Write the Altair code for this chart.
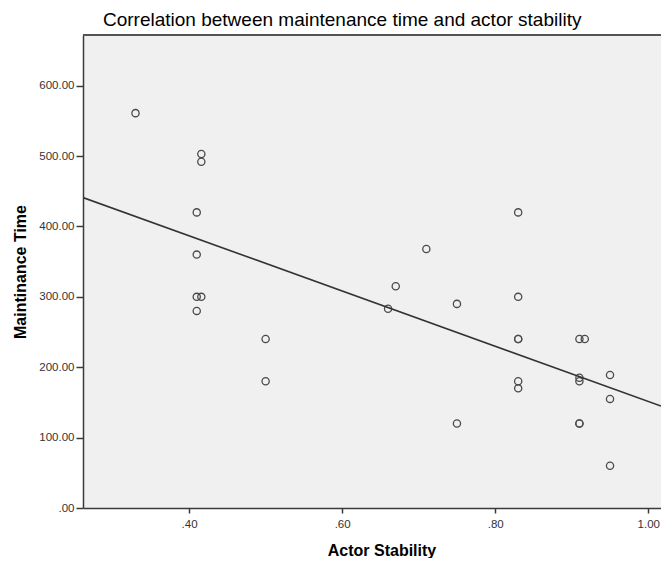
import altair as alt
import pandas as pd

# Actor stability (x) and maintenance time (y)
stability = [0.33, 0.416, 0.416, 0.41, 0.41, 0.41, 0.416, 0.41, 0.50, 0.50,
             0.83, 0.71, 0.67, 0.66, 0.75, 0.83, 0.83, 0.83, 0.91, 0.917,
             0.95, 0.91, 0.91, 0.83, 0.83, 0.95, 0.75, 0.91, 0.91, 0.95]
maint_time = [561, 503, 492, 420, 360, 300, 300, 280, 240, 180,
              420, 368, 315, 283, 290, 300, 240, 240, 240, 240,
              189, 185, 180, 180, 170, 155, 120, 120, 120, 60]

x_ticks = [0.4, 0.6, 0.8, 1.0]
y_ticks = [0, 100, 200, 300, 400, 500, 600]
x_domain = [0.2614, 1.0166]
y_domain = [0, 672]

df = pd.DataFrame({"stability": stability, "time": maint_time})

FONT = "Liberation Sans"
W, H = 578, 473
label_expr = "datum.value >= 1 ? format(datum.value, '.2f') : substring(format(datum.value, '.2f'), 1)"

x_enc = alt.X(
    "stability:Q",
    scale=alt.Scale(domain=x_domain, nice=False, zero=False),
    axis=alt.Axis(
        values=x_ticks, labelExpr=label_expr, title="Actor Stability",
        grid=False, tickSize=5, labelPadding=5, labelFontSize=11.5,
        labelColor="#333333", labelFont=FONT,
        titleFont=FONT, titleFontSize=16, titleFontWeight="bold", titleColor="black",
        titleX=298.5, titleY=42, titleBaseline="middle", titleAnchor="middle",
        domainColor="#3a3a3a", domainWidth=1.5, tickColor="#3a3a3a", tickWidth=1.5,
    ),
)
y_enc = alt.Y(
    "time:Q",
    scale=alt.Scale(domain=y_domain, nice=False, zero=True),
    axis=alt.Axis(
        values=y_ticks, labelExpr=label_expr, title="Maintinance Time",
        grid=False, tickSize=7, labelPadding=2, labelFontSize=11.5,
        labelColor="#333333", labelFont=FONT,
        titleFont=FONT, titleFontSize=16, titleFontWeight="bold", titleColor="black",
        titleX=-63, titleY=236.5, titleBaseline="middle", titleAngle=-90, titleAnchor="middle",
        domainColor="#3a3a3a", domainWidth=1.5, tickColor="#3a3a3a", tickWidth=1.5,
    ),
)

points = alt.Chart(df).mark_point(
    shape="circle", filled=False, size=52, stroke="#4a4a4a", strokeWidth=1.3, opacity=1
).encode(x=x_enc, y=y_enc)

fit = alt.Chart(df).transform_regression(
    "stability", "time", extent=x_domain
).mark_line(color="#333333", strokeWidth=1.6, clip=True).encode(
    x=alt.X("stability:Q"), y=alt.Y("time:Q")
)

top_border = alt.Chart(df).mark_rule(color="#555555", strokeWidth=1.5).encode(
    x=alt.value(0), x2=alt.value(W), y=alt.value(0)
)

chart = alt.layer(points, fit, top_border).properties(
    width=W,
    height=H,
    title=alt.TitleParams(
        text="Correlation between maintenance time and actor stability",
        anchor="start", frame="group", dx=20, dy=21, offset=10, baseline="alphabetic",
        font=FONT, fontSize=19, fontWeight="normal", color="black",
    ),
    padding={"left": 75, "top": 27, "right": 0, "bottom": 50},
    autosize=alt.AutoSizeParams(type="none"),
    background="white",
).configure_view(
    fill="#f0f0f0", strokeOpacity=0
)

chart.save("out.html", embed_options={"renderer": "svg", "actions": False})
